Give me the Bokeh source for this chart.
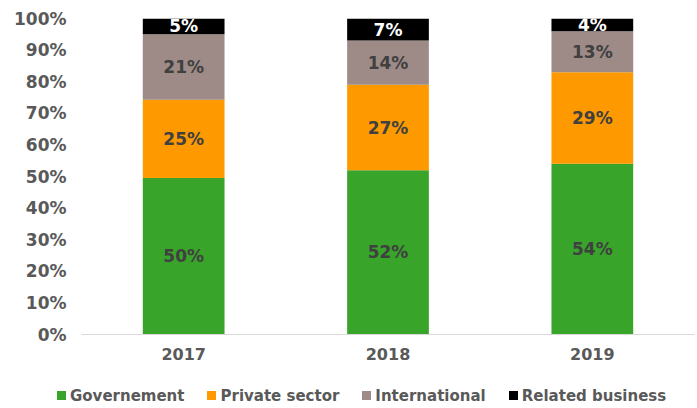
from bokeh.plotting import figure
from bokeh.layouts import column
from bokeh.models import (FactorRange, FixedTicker, NumeralTickFormatter, ColumnDataSource, Div)
from bokeh.core.properties import value
from bokeh.embed import file_html
from bokeh.resources import INLINE

years = ["2017", "2018", "2019"]
series = ["Governement", "Private sector", "International", "Related business"]
governement = [50, 52, 54]
private_sector = [25, 27, 29]
international = [21, 14, 13]
related_business = [5, 7, 4]
y_ticks = [0, 0.1, 0.2, 0.3, 0.4, 0.5, 0.6, 0.7, 0.8, 0.9, 1.0]

colors = ["#38A52A", "#FF9900", "#9E8B87", "#000000"]
label_colors = ["#404040", "#404040", "#404040", "#FFFFFF"]
FONT = "DejaVu Sans"

raw = [governement, private_sector, international, related_business]
totals = [sum(v[i] for v in raw) for i in range(len(years))]
shares = [[v[i] / totals[i] for i in range(len(years))] for v in raw]

data = {"year": years}
for name, s in zip(series, shares):
    data[name] = s
src = ColumnDataSource(data)

p = figure(x_range=FactorRange(*years, range_padding=0), y_range=(0, 1),
           width=697, height=372, output_backend="svg", toolbar_location=None,
           min_border_left=81, min_border_right=3, min_border_top=18,
           min_border_bottom=38, background_fill_color=None,
           border_fill_color="white", outline_line_color=None)

renderers = p.vbar_stack(series, x="year", width=0.4, color=colors, source=src,
                         line_color=None)

# segment labels
for k, name in enumerate(series):
    bottoms = [sum(shares[j][i] for j in range(k)) for i in range(len(years))]
    mids = [b + shares[k][i] / 2 for i, b in enumerate(bottoms)]
    texts = [f"{raw[k][i]}%" for i in range(len(years))]
    p.text(x=years, y=mids, text=texts, text_align="center", text_baseline="middle",
           text_font=value(FONT), text_font_style="bold", text_font_size="17px",
           text_color=label_colors[k])

p.xgrid.visible = False
p.ygrid.visible = False

p.yaxis.ticker = FixedTicker(ticks=y_ticks)
p.yaxis.formatter = NumeralTickFormatter(format="0%")
p.yaxis.axis_line_color = None
p.yaxis.major_tick_line_color = None
p.yaxis.minor_tick_line_color = None
p.yaxis.major_tick_out = 0
p.yaxis.major_label_standoff = 15
p.yaxis.major_label_text_font = FONT
p.yaxis.major_label_text_font_style = "bold"
p.yaxis.major_label_text_font_size = "17px"
p.yaxis.major_label_text_color = "#595959"

p.xaxis.axis_line_color = "#D9D9D9"
p.xaxis.axis_line_width = 1
p.xaxis.major_tick_line_color = None
p.xaxis.minor_tick_line_color = None
p.xaxis.major_tick_out = 0
p.xaxis.major_label_standoff = 13
p.xaxis.major_label_text_font = FONT
p.xaxis.major_label_text_font_style = "bold"
p.xaxis.major_label_text_font_size = "16px"
p.xaxis.major_label_text_color = "#595959"

# legend strip below the chart
items_html = "".join(
    f'<span style="display:inline-flex;align-items:center;margin-right:23px;">'
    f'<span style="display:inline-block;width:9px;height:9px;background:{c};margin-right:4px;"></span>'
    f'{s}</span>'
    for s, c in zip(series, colors)
)
legend_div = Div(
    text=f'<div style="display:flex;align-items:center;white-space:nowrap;">{items_html}</div>',
    width=697, height=36,
    styles={"font-family": "'DejaVu Sans'", "font-weight": "bold", "font-size": "15px",
            "color": "#595959", "line-height": "18px", "padding-top": "14px",
            "padding-left": "57px", "box-sizing": "border-box", "margin": "0"},
)

layout = column(p, legend_div, spacing=0)
open("out.html", "w").write(file_html(layout, INLINE))
